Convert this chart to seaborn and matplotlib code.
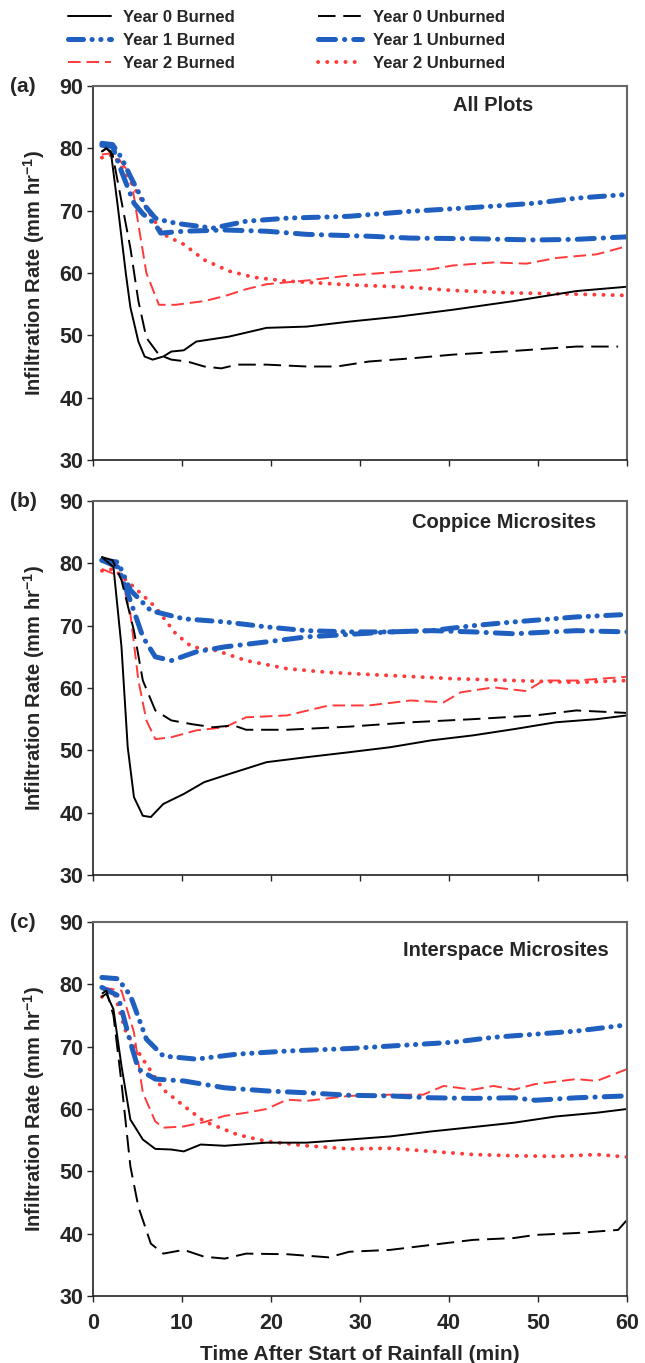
import matplotlib

matplotlib.use("Agg")

import matplotlib.pyplot as plt
import pandas as pd
import seaborn as sns
from matplotlib.lines import Line2D

# ---- data (time in min, rate in mm/hr) ----
SERIES = ["Year 0 Burned", "Year 1 Burned", "Year 2 Burned",
          "Year 0 Unburned", "Year 1 Unburned", "Year 2 Unburned"]

# (a) All Plots
a_y0b_t = [1.0, 1.5, 2.0, 2.8, 3.7, 4.2, 5.1, 5.8, 6.7, 7.9, 8.8, 10.2, 11.6, 15.3, 19.5, 24.0, 28.8, 34.3, 40.4, 47.3, 54.3, 60.0]
a_y0b_r = [79.5, 80.0, 79.5, 70.5, 59.8, 54.5, 49.0, 46.6, 46.1, 46.6, 47.4, 47.6, 49.0, 49.8, 51.2, 51.4, 52.2, 53.0, 54.1, 55.5, 57.1, 57.8]
a_y0u_t = [1.0, 1.5, 2.2, 3.2, 4.2, 5.1, 6.0, 7.4, 8.8, 10.6, 12.5, 14.4, 16.2, 19.5, 24.0, 27.4, 31.0, 35.7, 40.4, 47.3, 54.3, 59.0]
a_y0u_r = [79.5, 80.0, 79.0, 71.5, 64.0, 55.5, 49.6, 46.9, 46.1, 45.8, 45.0, 44.7, 45.3, 45.3, 45.0, 45.0, 45.8, 46.3, 46.9, 47.5, 48.2, 48.2]
a_y1b_t = [1.0, 2.2, 3.2, 4.2, 5.1, 6.0, 7.0, 8.5, 10.2, 13.5, 17.2, 21.8, 28.8, 35.7, 42.7, 49.7, 54.3, 60.0]
a_y1b_r = [80.8, 80.6, 78.5, 75.5, 73.0, 70.5, 68.8, 68.2, 67.8, 67.2, 68.3, 68.8, 69.1, 69.9, 70.5, 71.2, 72.0, 72.6]
a_y1u_t = [1.0, 2.2, 3.2, 4.6, 5.6, 7.0, 7.6, 10.2, 14.8, 19.5, 24.0, 31.0, 35.7, 42.7, 49.7, 54.3, 60.0]
a_y1u_r = [80.5, 80.3, 76.3, 71.2, 69.5, 67.8, 66.4, 66.7, 66.9, 66.7, 66.2, 65.9, 65.6, 65.5, 65.3, 65.4, 65.8]
a_y2b_t = [1.0, 2.0, 2.8, 4.2, 5.1, 6.0, 7.4, 9.3, 12.5, 14.8, 17.2, 19.5, 24.0, 28.8, 33.4, 38.0, 40.4, 45.0, 48.7, 52.0, 56.6, 60.0]
a_y2b_r = [79.0, 79.2, 78.5, 75.8, 67.8, 60.0, 54.9, 54.9, 55.5, 56.3, 57.4, 58.2, 58.8, 59.6, 60.1, 60.6, 61.2, 61.7, 61.5, 62.4, 63.0, 64.3]
a_y2u_t = [1.0, 2.3, 4.2, 6.0, 7.9, 10.2, 12.5, 15.3, 18.1, 21.8, 28.8, 35.7, 40.4, 47.3, 54.3, 60.0]
a_y2u_r = [78.5, 79.0, 74.7, 70.4, 66.2, 64.6, 62.1, 60.3, 59.3, 58.7, 58.1, 57.7, 57.2, 56.8, 56.6, 56.4]

# (b) Coppice Microsites
b_y0b_t = [1.0, 2.3, 3.2, 3.9, 4.6, 5.6, 6.5, 7.9, 10.2, 12.5, 15.3, 19.5, 24.0, 28.8, 33.4, 38.0, 42.7, 47.3, 52.0, 56.6, 60.0]
b_y0b_r = [81.0, 79.4, 66.6, 50.5, 42.5, 39.5, 39.3, 41.4, 43.0, 44.9, 46.2, 48.1, 48.9, 49.7, 50.5, 51.6, 52.4, 53.4, 54.5, 55.0, 55.6]
b_y0u_t = [1.0, 2.2, 3.2, 4.6, 5.6, 7.0, 8.8, 11.1, 13.5, 15.8, 17.2, 21.8, 28.8, 35.7, 42.7, 49.7, 54.3, 60.0]
b_y0u_r = [81.0, 80.5, 77.3, 69.2, 61.2, 56.4, 54.8, 54.2, 53.7, 54.0, 53.3, 53.3, 53.8, 54.5, 55.0, 55.6, 56.4, 56.0]
b_y1b_t = [1.0, 2.8, 4.2, 6.5, 10.2, 14.8, 19.5, 24.0, 28.8, 33.4, 38.0, 42.7, 47.3, 54.3, 60.0]
b_y1b_r = [80.5, 80.2, 75.7, 72.4, 71.1, 70.6, 69.8, 69.2, 69.0, 69.0, 69.2, 70.0, 70.6, 71.4, 71.8]
b_y1u_t = [1.0, 2.8, 4.2, 5.6, 7.0, 8.8, 11.6, 14.8, 19.5, 24.0, 28.8, 33.4, 38.0, 42.7, 47.3, 54.3, 60.0]
b_y1u_r = [80.5, 79.4, 74.0, 68.2, 65.0, 64.4, 65.8, 66.6, 67.4, 68.2, 68.6, 69.0, 69.2, 69.0, 68.7, 69.2, 69.0]
b_y2b_t = [1.0, 3.2, 4.2, 5.1, 6.0, 7.0, 8.8, 11.6, 14.8, 17.2, 21.8, 26.5, 31.0, 35.7, 39.4, 41.3, 45.0, 48.7, 50.6, 54.3, 60.0]
b_y2b_r = [79.1, 77.8, 71.9, 61.2, 54.8, 51.8, 52.1, 53.2, 53.7, 55.3, 55.6, 57.2, 57.2, 58.0, 57.7, 59.3, 60.1, 59.5, 61.2, 61.2, 61.8]
b_y2u_t = [1.0, 2.3, 4.6, 7.0, 9.3, 11.1, 13.9, 17.2, 21.8, 26.5, 33.4, 40.4, 47.3, 54.3, 60.0]
b_y2u_r = [78.8, 79.1, 76.2, 73.0, 68.7, 66.6, 66.0, 64.4, 63.1, 62.5, 62.0, 61.5, 61.2, 60.9, 61.2]

# (c) Interspace Microsites
c_y0b_t = [1.0, 1.5, 2.3, 3.2, 4.2, 5.6, 7.0, 8.8, 10.2, 12.1, 14.8, 19.5, 24.0, 28.8, 33.4, 38.0, 42.7, 47.3, 52.0, 56.6, 60.0]
c_y0b_r = [78.0, 78.5, 76.0, 66.9, 58.3, 55.1, 53.6, 53.5, 53.2, 54.3, 54.1, 54.6, 54.6, 55.1, 55.6, 56.4, 57.1, 57.8, 58.8, 59.4, 60.0]
c_y0u_t = [1.0, 1.5, 2.3, 3.2, 4.2, 5.1, 6.5, 7.9, 10.2, 12.5, 14.8, 17.2, 21.8, 26.5, 28.8, 33.4, 38.0, 42.7, 47.3, 49.7, 54.3, 59.0, 60.0]
c_y0u_r = [78.5, 79.0, 75.0, 64.2, 50.8, 44.3, 38.4, 36.8, 37.4, 36.3, 36.0, 36.8, 36.7, 36.2, 37.1, 37.4, 38.2, 39.0, 39.3, 39.8, 40.1, 40.6, 42.2]
c_y1b_t = [1.0, 2.8, 4.2, 6.0, 7.9, 11.6, 16.2, 21.8, 28.8, 33.4, 40.4, 45.0, 49.7, 54.3, 60.0]
c_y1b_r = [81.1, 80.9, 78.2, 71.2, 68.5, 68.0, 68.8, 69.3, 69.7, 70.1, 70.7, 71.5, 72.0, 72.5, 73.5]
c_y1u_t = [1.0, 2.8, 4.2, 5.1, 7.0, 10.2, 14.8, 19.5, 24.0, 28.8, 33.4, 38.0, 42.7, 47.3, 49.7, 54.3, 60.0]
c_y1u_r = [79.5, 78.2, 70.7, 66.4, 64.8, 64.5, 63.4, 62.9, 62.6, 62.2, 62.1, 61.8, 61.7, 61.8, 61.4, 61.8, 62.1]
c_y2b_t = [1.0, 3.2, 4.6, 5.6, 7.0, 7.9, 10.2, 12.5, 14.8, 17.2, 19.5, 21.8, 24.0, 28.8, 33.4, 37.1, 39.4, 42.7, 45.0, 47.3, 49.7, 54.3, 56.6, 60.0]
c_y2b_r = [79.5, 79.0, 72.3, 62.6, 58.0, 57.0, 57.2, 57.9, 58.9, 59.4, 60.0, 61.5, 61.3, 62.1, 62.3, 62.3, 63.7, 63.1, 63.7, 63.1, 64.0, 64.8, 64.5, 66.4]
c_y2u_t = [1.0, 2.3, 3.7, 5.6, 7.9, 10.2, 12.5, 16.2, 19.5, 24.0, 28.8, 33.4, 38.0, 42.7, 47.3, 52.0, 56.6, 60.0]
c_y2u_r = [78.0, 79.0, 72.3, 68.0, 63.1, 60.5, 58.0, 55.9, 54.8, 54.1, 53.6, 53.7, 53.2, 52.7, 52.5, 52.4, 52.7, 52.3]

PANELS = [
    ("(a)", "All Plots", (0.749, 0.947),
     [(a_y0b_t, a_y0b_r), (a_y1b_t, a_y1b_r), (a_y2b_t, a_y2b_r),
      (a_y0u_t, a_y0u_r), (a_y1u_t, a_y1u_r), (a_y2u_t, a_y2u_r)]),
    ("(b)", "Coppice Microsites", (0.77, 0.942),
     [(b_y0b_t, b_y0b_r), (b_y1b_t, b_y1b_r), (b_y2b_t, b_y2b_r),
      (b_y0u_t, b_y0u_r), (b_y1u_t, b_y1u_r), (b_y2u_t, b_y2u_r)]),
    ("(c)", "Interspace Microsites", (0.773, 0.925),
     [(c_y0b_t, c_y0b_r), (c_y1b_t, c_y1b_r), (c_y2b_t, c_y2b_r),
      (c_y0u_t, c_y0u_r), (c_y1u_t, c_y1u_r), (c_y2u_t, c_y2u_r)]),
]

# ---- styles ----
BLUE = "#1f5fbf"
RED = "#ff3a3a"
palette = {
    "Year 0 Burned": "black", "Year 0 Unburned": "black",
    "Year 1 Burned": BLUE, "Year 1 Unburned": BLUE,
    "Year 2 Burned": RED, "Year 2 Unburned": RED,
}
widths = {
    "Year 0 Burned": 1.4, "Year 0 Unburned": 1.4,
    "Year 1 Burned": 3.6, "Year 1 Unburned": 3.6,
    "Year 2 Burned": 1.4, "Year 2 Unburned": 2.8,
}
dashes = {
    "Year 0 Burned": "",
    "Year 0 Unburned": (9, 4),
    "Year 1 Burned": (3.0, 1.7, 0.05, 1.7, 0.05, 1.7),
    "Year 1 Unburned": (3.4, 1.8, 0.05, 1.8),
    "Year 2 Burned": (6.5, 3),
    "Year 2 Unburned": (0.05, 2.3),
}
ROUND = {"Year 1 Burned", "Year 1 Unburned", "Year 2 Unburned"}

sns.set_style("ticks")
plt.rcParams["font.family"] = ["Liberation Sans", "DejaVu Sans"]
plt.rcParams["font.weight"] = "bold"
plt.rcParams["mathtext.fontset"] = "custom"
plt.rcParams["mathtext.bf"] = "Liberation Sans:bold"
plt.rcParams["mathtext.rm"] = "Liberation Sans:bold"
plt.rcParams["mathtext.default"] = "bf"

fig = plt.figure(figsize=(6.45, 13.63), dpi=100)
left, width, height = 93 / 645, 534 / 645, 374 / 1363
bottoms = [1 - 460 / 1363, 1 - 875 / 1363, 1 - 1296 / 1363]

for i, (tag, title, tpos, data) in enumerate(PANELS):
    ax = fig.add_axes([left, bottoms[i], width, height])
    frames = []
    for name, (t, r) in zip(SERIES, data):
        frames.append(pd.DataFrame({"time": t, "rate": r, "series": name}))
    df = pd.concat(frames, ignore_index=True)
    # draw back-to-front similar to the original
    for name in ["Year 2 Unburned", "Year 2 Burned", "Year 1 Unburned", "Year 1 Burned",
                 "Year 0 Unburned", "Year 0 Burned"]:
        sub = df[df["series"] == name]
        sns.lineplot(data=sub, x="time", y="rate", color=palette[name],
                     linewidth=widths[name], ax=ax, legend=False, estimator=None)
        line = ax.lines[-1]
        if dashes[name]:
            line.set_dashes(dashes[name])
        if name in ROUND:
            line.set_dash_capstyle("round")
            line.set_solid_capstyle("round")

    ax.set_xlim(0, 60)
    ax.set_ylim(30, 90)
    ax.set_xticks(range(0, 61, 10))
    ax.set_yticks(range(30, 91, 10))
    ax.tick_params(direction="out", length=4, width=1, labelsize=15.5, pad=3)
    ax.tick_params(axis="x", pad=8)
    ax.set_ylabel("Infiltration Rate (mm hr$^{-1}$)", fontsize=14.5, fontweight="bold", labelpad=9)
    if i < 2:
        ax.set_xlabel("")
        ax.set_xticklabels([])
    else:
        ax.set_xlabel("Time After Start of Rainfall (min)", fontsize=15, fontweight="bold", labelpad=8)
    for side in ["left", "bottom"]:
        ax.spines[side].set_color("#222222")
        ax.spines[side].set_linewidth(1.2)
    for side in ["top", "right"]:
        ax.spines[side].set_color("#666666")
        ax.spines[side].set_linewidth(1.5)
    ax.text(tpos[0], tpos[1], title, transform=ax.transAxes, ha="center", va="center",
            fontsize=14.5, fontweight="bold")
    fig.text(10 / 645, bottoms[i] + height, tag, ha="left", va="center",
             fontsize=15, fontweight="bold")

handles = []
for n in SERIES:
    h = Line2D([0], [0], color=palette[n], linewidth=widths[n])
    if dashes[n]:
        h.set_dashes(dashes[n])
    if n in ROUND:
        h.set_dash_capstyle("round")
    handles.append(h)
fig.legend(handles, SERIES, ncol=2, loc="upper left", bbox_to_anchor=(58 / 645, 1.0),
           frameon=False, handlelength=2.6, handletextpad=0.7,
           columnspacing=5.0, labelspacing=0.48, borderaxespad=0.2,
           prop={"weight": "bold", "size": 12})

fig.savefig("out.png", dpi=100)
